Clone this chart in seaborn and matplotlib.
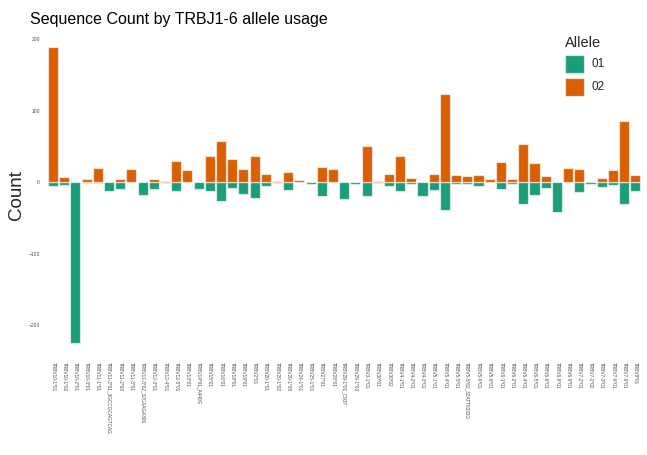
import matplotlib
matplotlib.use("Agg")
import matplotlib.pyplot as plt
from matplotlib.patches import Rectangle
import numpy as np
import pandas as pd
import seaborn as sns

# V-gene alleles on the x axis
genes = [
    "TRBV10-1*01", "TRBV10-1*02", "TRBV10-2*01", "TRBV10-3*01", "TRBV11-1*01",
    "TRBV11-2*01_3GCCGCAGTCAG", "TRBV11-2*03", "TRBV11-3*01", "TRBV11-3*02_32CAAGA306",
    "TRBV12-3*01", "TRBV12-4*01", "TRBV12-5*01", "TRBV13*01", "TRBV14*01_A440G",
    "TRBV15*01", "TRBV16*01", "TRBV18*01", "TRBV19*01", "TRBV2*01", "TRBV20-1*01",
    "TRBV20-1*02", "TRBV20-1*05", "TRBV24-1*01", "TRBV25-1*01", "TRBV27*01",
    "TRBV28*01", "TRBV29-1*01_C93T", "TRBV29-1*03", "TRBV3-1*01", "TRBV30*01",
    "TRBV30*02", "TRBV4-1*01", "TRBV4-2*01", "TRBV4-3*01", "TRBV5-1*01",
    "TRBV5-4*01", "TRBV5-5*01", "TRBV5-5*02_32ATT0332G", "TRBV5-6*01", "TRBV5-8*01",
    "TRBV6-1*01", "TRBV6-2*01", "TRBV6-4*01", "TRBV6-5*01", "TRBV6-6*01",
    "TRBV6-8*01", "TRBV6-9*01", "TRBV7-2*01", "TRBV7-2*02", "TRBV7-3*01",
    "TRBV7-6*01", "TRBV7-9*01", "TRBV9*01",
]

# allele 01 counts are drawn downward, allele 02 counts upward
allele_01 = [
    -5, -4, -225, -1, -1, -12, -9, 0, -18, -10, -1, -13, 0, -9, -13, -26, -8, -17,
    -22, -6, -1, -11, 0, -3, -19, 0, -24, -3, -20, -1, -5, -12, -2, -20, -11, -39,
    -2, -3, -5, 0, -9, -3, -31, -18, -8, -42, 0, -14, -2, -7, -4, -31, -13,
]
allele_02 = [
    189, 7, 0, 4, 20, 0, 4, 19, 0, 5, 2, 29, 17, 0, 37, 58, 32, 19, 37, 11, 2, 14,
    3, 0, 21, 19, 0, 0, 50, 2, 11, 36, 6, 0, 11, 124, 10, 9, 10, 4, 28, 5, 53, 27,
    8, 0, 20, 19, 0, 6, 17, 85, 10,
]

alleles = ["01", "02"]
palette = {"01": "#1B9E77", "02": "#D95F02"}
y_ticks = [-200, -100, 0, 100, 200]

n = len(genes)
df = pd.DataFrame({
    "gene": genes * 2,
    "allele": ["01"] * n + ["02"] * n,
    "count": allele_01 + allele_02,
})
df = df[df["count"] != 0]

sns.set_theme(style="white")
plt.rcParams["font.family"] = ["Liberation Sans", "DejaVu Sans"]

W, H = 647, 455
fig = plt.figure(figsize=(W / 100, H / 100), dpi=100)
ax = fig.add_axes([46.3 / W, 1 - 357.6 / H, (642 - 46.3) / W, (357.6 - 32.3) / H])

sns.barplot(
    data=df, x="gene", y="count", hue="allele", order=genes, hue_order=alleles,
    palette=palette, saturation=1, dodge=False, width=0.9, errorbar=None,
    edgecolor=(1, 1, 1, 0.6), linewidth=0.9, legend=False, ax=ax,
)

lo, hi = min(allele_01), max(allele_02)
pad = 0.05 * (hi - lo)
ax.set_ylim(lo - pad, hi + pad)
ax.set_xlim(-0.6, n - 0.4)

for s in ax.spines.values():
    s.set_visible(False)
ax.set_xlabel("")
ax.set_ylabel("")
ax.set_yticks(y_ticks)
ax.tick_params(axis="y", length=0, pad=4.5, labelsize=3.6, labelcolor="#4d4d4d")
ax.tick_params(axis="x", length=0, pad=3.5, labelsize=3.4, labelcolor="#4d4d4d")
for lab in ax.get_xticklabels():
    lab.set_rotation(270)
    lab.set_ha("center")
    lab.set_va("top")

fig.text(30 / W, 1 - 24 / H, "Sequence Count by TRBJ1-6 allele usage",
         fontsize=11.5, color="black", va="baseline", ha="left")
fig.text(16 / W, 1 - 195 / H, "Count", rotation=90, fontsize=13.5,
         ha="center", va="center")

# legend
fig.text(565 / W, 1 - 47 / H, "Allele", fontsize=10.5, va="baseline", ha="left")
for i, a in enumerate(alleles):
    top = 55 + i * 23
    fig.add_artist(Rectangle((565 / W, 1 - (top + 18) / H), 19 / W, 18 / H,
                             transform=fig.transFigure, facecolor=palette[a],
                             edgecolor=(1, 1, 1, 0.6), linewidth=0.9))
    fig.text(592 / W, 1 - (top + 9) / H, a, fontsize=8.5, va="center", ha="left")

fig.savefig("out.png", dpi=100)
